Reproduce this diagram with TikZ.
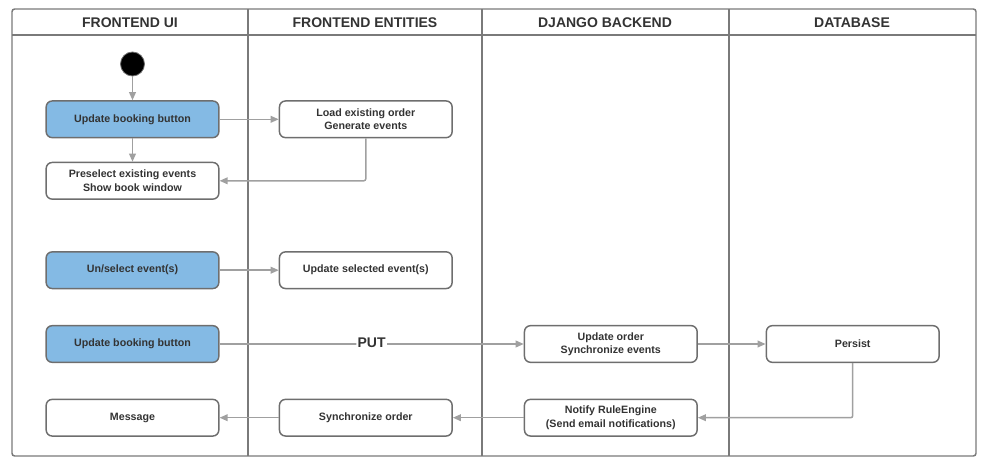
\documentclass[tikz,border=0pt]{standalone}
\usepackage{fontspec}
\setmainfont{Liberation Sans}
\usetikzlibrary{arrows.meta}
\definecolor{lanegray}{HTML}{7A7A7A}
\definecolor{boxgray}{HTML}{6E6E6E}
\definecolor{arrowgray}{HTML}{A0A0A0}
\definecolor{textgray}{HTML}{333333}
\definecolor{actblue}{HTML}{84BAE4}
\tikzset{
  px/.style={x=0.75pt,y=-0.75pt},
  act/.style={draw=boxgray, line width=1.1pt, rounded corners=4.5pt, fill=white,
    minimum width=129.5pt, minimum height=27.5pt, inner sep=0pt,
    align=center, font=\bfseries\fontsize{8pt}{10pt}\selectfont, text=textgray},
  btn/.style={act, fill=actblue},
  lanehead/.style={font=\bfseries\fontsize{10.5pt}{12pt}\selectfont, text=textgray},
  flow/.style={draw=arrowgray, line width=1.1pt, -{Triangle[length=6pt,width=5pt]}, rounded corners=1.5pt},
  frame/.style={draw=lanegray, line width=1.1pt}
}
\begin{document}
\begin{tikzpicture}[px]
\useasboundingbox (0,0) rectangle (986,467);
% swimlane frame
\draw[frame, rounded corners=2pt] (12,9) rectangle (976,456);
\draw[frame] (12,35) -- (976,35);
\draw[frame] (248,9) -- (248,456);
\draw[frame] (482,9) -- (482,456);
\draw[frame] (729,9) -- (729,456);
\node[lanehead] (h1) at (130,23) {FRONTEND UI};
\node[lanehead] (h2) at (365,23) {FRONTEND ENTITIES};
\node[lanehead] (h3) at (605,23) {DJANGO BACKEND};
\node[lanehead] (h4) at (852,23) {DATABASE};
% start
\node[circle, fill=black, draw=boxgray, line width=0.6pt, minimum size=18pt, inner sep=0pt] (start) at (132.5,64) {};
% activities
\node[btn] (upd1) at (132.5,119.3) {Update booking button};
\node[act] (pre) at (132.5,180.8) {Preselect existing events\\Show book window};
\node[btn] (unsel) at (132.5,270.2) {Un/select event(s)};
\node[btn] (upd2) at (132.5,344) {Update booking button};
\node[act] (msg) at (132.5,417.7) {Message};
\node[act] (load) at (365.8,119.3) {Load existing order\\Generate events};
\node[act] (updsel) at (365.8,270.2) {Update selected event(s)};
\node[act] (sync) at (365.8,417.7) {Synchronize order};
\node[act] (updord) at (610.8,344) {Update order\\Synchronize events};
\node[act] (notify) at (610.8,417.7) {Notify RuleEngine\\(Send email notifications)};
\node[act] (persist) at (852.7,344) {Persist};
% flows
\draw[flow] (start) -- (upd1);
\draw[flow] (upd1) -- (pre);
\draw[flow] (upd1) -- (load);
\draw[flow] (load.south) |- (pre.east);
\draw[flow] (unsel) -- (updsel);
\draw[flow] (upd2) -- node[pos=0.5, fill=white, inner sep=1pt, font=\fontsize{10.5pt}{12pt}\selectfont\bfseries, text=textgray, yshift=1pt] (put) {PUT} (updord);
\draw[flow] (updord) -- (persist);
\draw[flow] (persist.south) |- (notify.east);
\draw[flow] (notify) -- (sync);
\draw[flow] (sync) -- (msg);
\end{tikzpicture}
\end{document}
